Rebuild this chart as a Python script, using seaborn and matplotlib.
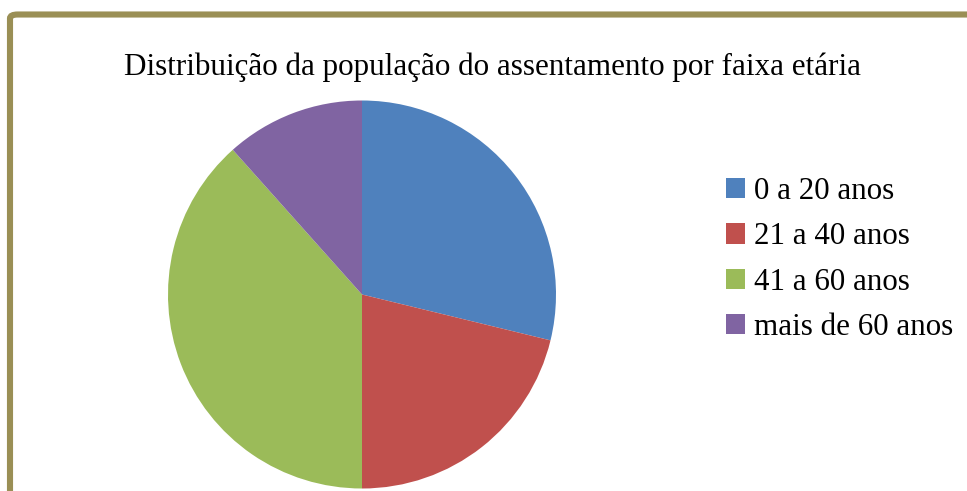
import matplotlib
matplotlib.use("Agg")
import matplotlib.pyplot as plt
from matplotlib.patches import FancyBboxPatch
import seaborn as sns

# Age-group shares of the settlement population (%)
categories = ["0 a 20 anos", "21 a 40 anos", "41 a 60 anos", "mais de 60 anos"]
shares = [28.8, 21.2, 38.4, 11.6]
colors = ["#4F81BD", "#C0504D", "#9BBB59", "#8064A2"]
title = "Distribuição da população do assentamento por faixa etária"

sns.set_theme(style="white", palette=sns.color_palette(colors))
plt.rcParams["font.family"] = ["Liberation Serif", "DejaVu Serif"]
plt.rcParams["text.color"] = "black"

W, H = 967, 491
fig = plt.figure(figsize=(W / 100, H / 100), dpi=100)
fig.patch.set_facecolor("white")

# Outer frame (runs off the right and bottom edges)
frame = FancyBboxPatch((10 / W, -40 / H), (W + 40) / W, (H - 14.5 + 40) / H,
                       boxstyle="round,pad=0,rounding_size=0.008",
                       transform=fig.transFigure, facecolor="none",
                       edgecolor="#9A8F55", linewidth=4.4, zorder=0)
fig.patches.append(frame)

fig.text(493 / W, 1 - 67 / H, title, ha="center", va="center", fontsize=22.4,
         color="black")

cx, cy, r = 362, 294.5, 194
ax = fig.add_axes([(cx - r) / W, (H - cy - r) / H, 2 * r / W, 2 * r / H])
wedges, _ = ax.pie(shares, colors=colors, startangle=90, counterclock=False,
                   radius=1, wedgeprops=dict(linewidth=0))
ax.set_xlim(-1, 1)
ax.set_ylim(-1, 1)
ax.set_aspect("equal")
ax.axis("off")

leg = fig.legend(wedges, categories, loc="upper left",
                 bbox_to_anchor=(726 / W, 1 - 177 / H), frameon=False,
                 fontsize=22.3, handlelength=0.62, handleheight=0.62,
                 handletextpad=0.3, labelspacing=0.53, borderpad=0,
                 borderaxespad=0, labelcolor="black")

fig.savefig("out.png", dpi=100, facecolor="white")
